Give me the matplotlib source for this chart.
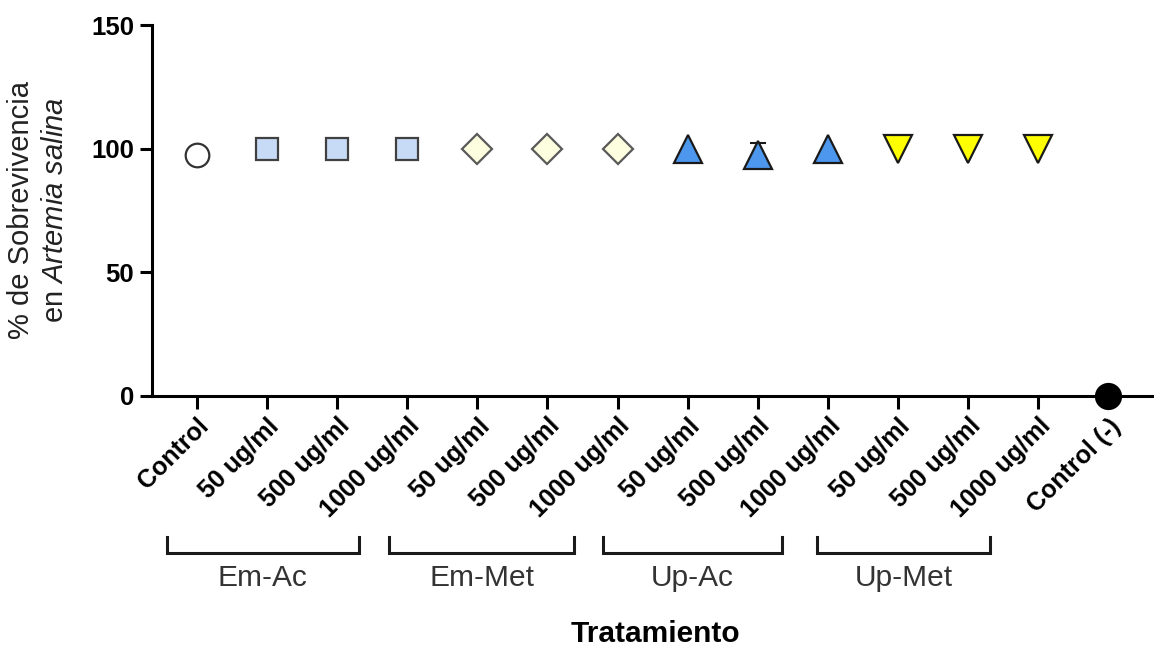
import matplotlib.pyplot as plt
import numpy as np

plt.rcParams['font.family'] = ['Liberation Sans', 'DejaVu Sans']
plt.rcParams['mathtext.fontset'] = 'custom'
plt.rcParams['mathtext.it'] = 'Liberation Sans:italic'
plt.rcParams['mathtext.rm'] = 'Liberation Sans'

labels = ['Control', '50 ug/ml', '500 ug/ml', '1000 ug/ml',
          '50 ug/ml', '500 ug/ml', '1000 ug/ml',
          '50 ug/ml', '500 ug/ml', '1000 ug/ml',
          '50 ug/ml', '500 ug/ml', '1000 ug/ml', 'Control (-)']
survival = [97.5, 100, 100, 100, 100, 100, 100, 100, 97.5, 100, 100, 100, 100, 0]
errors = [2.5, 0, 0, 0, 0, 0, 0, 0, 4.8, 0, 0, 0, 0, 0]
groups = ['Em-Ac', 'Em-Met', 'Up-Ac', 'Up-Met']
# bracket extent under the rotated labels, in x-data units
bracket_spans = [(-0.43, 2.31), (2.74, 5.38), (5.79, 8.35), (8.84, 11.31)]

# marker style per point
markers = ['o'] + ['s'] * 3 + ['D'] * 3 + ['^'] * 3 + ['v'] * 3 + ['o']
faces = ['white'] + ['#c8dbf6'] * 3 + ['#fdfde0'] * 3 + ['#4d97ee'] * 3 + ['#ffff00'] * 3 + ['black']
edges = ['#333333'] + ['#404040'] * 3 + ['#5a5a5a'] * 3 + ['#1a1a1a'] * 3 + ['#1a1a1a'] * 3 + ['black']
sizes = [17] + [16.5] * 3 + [15.3] * 3 + [20.5] * 3 + [20.5] * 3 + [18]

fig = plt.figure(figsize=(11.54, 6.47), dpi=100)
ax = fig.add_axes([0.1317, 0.388, 0.8683, 0.573])

x = np.arange(len(labels))
for i in range(len(labels)):
    if errors[i] > 0:
        ax.errorbar(x[i], survival[i], yerr=errors[i], fmt='none', ecolor='#1a1a1a',
                    elinewidth=1.5, capsize=6, capthick=1.5, zorder=2)
    ax.plot(x[i], survival[i], marker=markers[i], markersize=sizes[i],
            markerfacecolor=faces[i], markeredgecolor=edges[i], markeredgewidth=1.6,
            linestyle='none', clip_on=False, zorder=3)

ax.set_xlim(-0.64, 13.65)
ax.set_ylim(0, 150)
ax.set_yticks([0, 50, 100, 150])
ax.set_xticks(x)
ax.set_xticklabels(labels, rotation=45, ha='right', rotation_mode='anchor',
                   fontsize=18, fontweight='bold')
for t in ax.get_yticklabels():
    t.set_fontsize(18.5)
    t.set_fontweight('bold')

for s in ['top', 'right']:
    ax.spines[s].set_visible(False)
for s in ['left', 'bottom']:
    ax.spines[s].set_linewidth(2.2)
ax.tick_params(axis='both', direction='out', length=9, width=2.2, pad=4)

# group brackets under the tick labels
trans = ax.get_xaxis_transform()
for name, (x0, x1) in zip(groups, bracket_spans):
    ax.plot([x0, x0, x1, x1], [-0.38, -0.423, -0.423, -0.38], color='#1a1a1a',
            lw=2.2, transform=trans, clip_on=False, solid_joinstyle='miter')
    ax.text((x0 + x1) / 2, -0.49, name, transform=trans, ha='center', va='center',
            fontsize=21.5, color='#333333')

fig.text(0.033, 0.675, '% de Sobrevivencia\nen $\\it{Artemia\\ salina}$', rotation=90,
         ha='center', va='center', fontsize=21, color='#222222', linespacing=1.25,
         multialignment='center')
fig.text(0.568, 0.02, 'Tratamiento', ha='center', va='center', fontsize=21.5, fontweight='bold')

fig.savefig('out.png', dpi=100)
